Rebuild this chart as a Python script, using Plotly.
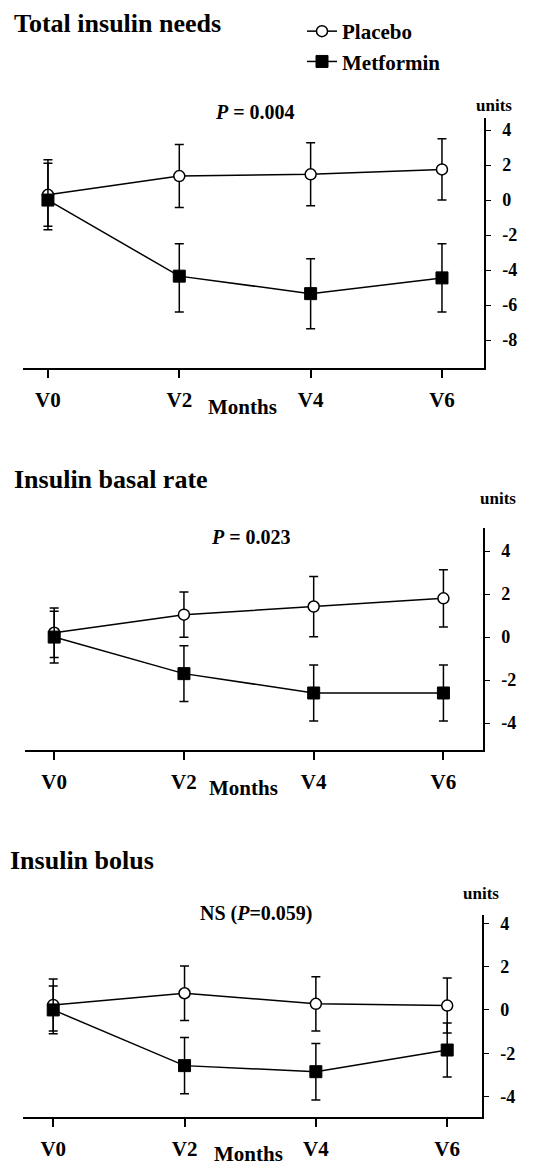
import plotly.graph_objects as go

W, H = 533, 1167

visits = ["V0", "V2", "V4", "V6"]
months = [0, 2, 4, 6]

# Panel 1: Total insulin needs
total_placebo = [0.3, 1.37, 1.47, 1.75]
total_placebo_err = [2.0, 1.8, 1.8, 1.75]
total_metformin = [0.0, -4.35, -5.35, -4.45]
total_metformin_err_up = [2.1, 1.85, 2.0, 1.95]
total_metformin_err_dn = [1.5, 2.05, 2.0, 1.95]

# Panel 2: Insulin basal rate
basal_placebo = [0.2, 1.04, 1.42, 1.8]
basal_placebo_err = [1.15, 1.05, 1.4, 1.33]
basal_metformin = [0.0, -1.7, -2.6, -2.6]
basal_metformin_err = [1.2, 1.3, 1.3, 1.3]

# Panel 3: Insulin bolus
bolus_placebo = [0.23, 0.77, 0.28, 0.2]
bolus_placebo_err = [1.2, 1.26, 1.25, 1.27]
bolus_metformin = [0.0, -2.57, -2.85, -1.85]
bolus_metformin_err = [1.1, 1.3, 1.3, 1.25]

panel_titles = ["Total insulin needs", "Insulin basal rate", "Insulin bolus"]
p_texts = ["<i>P</i> = 0.004", "<i>P</i> = 0.023", "NS (<i>P</i>=0.059)"]
y_tick_vals = [[-8, -6, -4, -2, 0, 2, 4], [-4, -2, 0, 2, 4], [-4, -2, 0, 2, 4]]
y_tick_text = [["-8", "-6", "-4", "-2", "0", "2", "4"],
               ["-4", "-2", "0", "2", "4"],
               ["-4", "-2", "0", "2", "4"]]

FONT = "Liberation Serif"


def px_x(px):
    return px / W


def px_y(py):
    return 1 - py / H


# layout geometry (pixels): x-axis left, right, y top, bottom, x range, y range
geo = [
    dict(x0=23, x1=484, y0=118, y1=368, xr=[-0.38, 6.64], yr=[-9.6, 4.69]),
    dict(x0=25, x1=483, y0=528, y1=750, xr=[-0.45, 6.61], yr=[-5.25, 5.07]),
    dict(x0=23, x1=482, y0=915, y1=1117, xr=[-0.46, 6.53], yr=[-4.94, 4.38]),
]

fig = go.Figure()

series = [
    (total_placebo, dict(array=total_placebo_err), total_metformin,
     dict(array=total_metformin_err_up, arrayminus=total_metformin_err_dn)),
    (basal_placebo, dict(array=basal_placebo_err), basal_metformin,
     dict(array=basal_metformin_err)),
    (bolus_placebo, dict(array=bolus_placebo_err), bolus_metformin,
     dict(array=bolus_metformin_err)),
]

for i, (pv, pe, mv, me) in enumerate(series):
    sfx = "" if i == 0 else str(i + 1)
    fig.add_trace(go.Scatter(
        x=months, y=pv, mode="lines+markers", name="Placebo",
        xaxis="x" + sfx, yaxis="y" + sfx, showlegend=(i == 0),
        line=dict(color="black", width=1.5),
        marker=dict(symbol="circle", size=11, color="white",
                    line=dict(color="black", width=1.5)),
        error_y=dict(type="data", symmetric=True, color="black", thickness=1.5, width=4.5, **pe),
    ))
    me_d = dict(me)
    sym = "arrayminus" not in me_d
    fig.add_trace(go.Scatter(
        x=months, y=mv, mode="lines+markers", name="Metformin",
        xaxis="x" + sfx, yaxis="y" + sfx, showlegend=(i == 0),
        line=dict(color="black", width=1.5),
        marker=dict(symbol="square", size=12, color="black",
                    line=dict(color="black", width=1)),
        error_y=dict(type="data", symmetric=sym, color="black", thickness=1.5, width=4.5, **me_d),
    ))

layout = dict(
    width=W, height=H,
    margin=dict(l=0, r=0, t=0, b=0),
    paper_bgcolor="white", plot_bgcolor="white",
    font=dict(family=FONT, color="black", size=18, weight="bold"),
    showlegend=True,
    legend=dict(x=px_x(302), y=px_y(11), xanchor="left", yanchor="top",
                font=dict(family=FONT, size=21, weight="bold"),
                bgcolor="rgba(0,0,0,0)", borderwidth=0, tracegroupgap=0),
)

for i, g in enumerate(geo):
    sfx = "" if i == 0 else str(i + 1)
    layout["xaxis" + sfx] = dict(
        domain=[px_x(g["x0"]), px_x(g["x1"])], range=g["xr"],
        anchor="y" + sfx, showgrid=False, zeroline=False,
        showline=True, linecolor="black", linewidth=1.5,
        ticks="outside", ticklen=8, tickwidth=1.5, tickcolor="black",
        tickvals=months, ticktext=visits, ticklabelstandoff=4,
        tickfont=dict(family=FONT, size=21, weight="bold"),
        fixedrange=True,
    )
    layout["yaxis" + sfx] = dict(
        domain=[px_y(g["y1"]), px_y(g["y0"])], range=g["yr"],
        anchor="x" + sfx, side="right", showgrid=False, zeroline=False,
        showline=True, linecolor="black", linewidth=1.5,
        ticks="outside", ticklen=5, tickwidth=1.2, tickcolor="black",
        tickvals=y_tick_vals[i], ticktext=y_tick_text[i], ticklabelstandoff=8,
        tickfont=dict(family=FONT, size=18, weight="bold"),
        fixedrange=True,
    )

fig.update_layout(**layout)

ann = []
title_pos = [(12, 24), (12, 479), (8, 860)]
p_pos = [(255, 112), (251, 537), (256, 913)]
units_pos = [(494, 105), (498, 498), (481, 893)]
months_pos = [(242, 407), (243, 788), (248, 1154)]
for i in range(3):
    ann.append(dict(text=panel_titles[i], x=px_x(title_pos[i][0]), y=px_y(title_pos[i][1]),
                    xref="paper", yref="paper", xanchor="left", yanchor="middle",
                    showarrow=False, font=dict(family=FONT, size=26, weight="bold")))
    ann.append(dict(text=p_texts[i], x=px_x(p_pos[i][0]), y=px_y(p_pos[i][1]),
                    xref="paper", yref="paper", xanchor="center", yanchor="middle",
                    showarrow=False, font=dict(family=FONT, size=20, weight="bold")))
    ann.append(dict(text="units", x=px_x(units_pos[i][0]), y=px_y(units_pos[i][1]),
                    xref="paper", yref="paper", xanchor="center", yanchor="middle",
                    showarrow=False, font=dict(family=FONT, size=17, weight="bold")))
    ann.append(dict(text="Months", x=px_x(months_pos[i][0]), y=px_y(months_pos[i][1]),
                    xref="paper", yref="paper", xanchor="center", yanchor="middle",
                    showarrow=False, font=dict(family=FONT, size=21, weight="bold")))

fig.update_layout(annotations=ann)

fig.write_html("out.html", config={"displayModeBar": False},
               post_script="document.body.style.margin='0';")
